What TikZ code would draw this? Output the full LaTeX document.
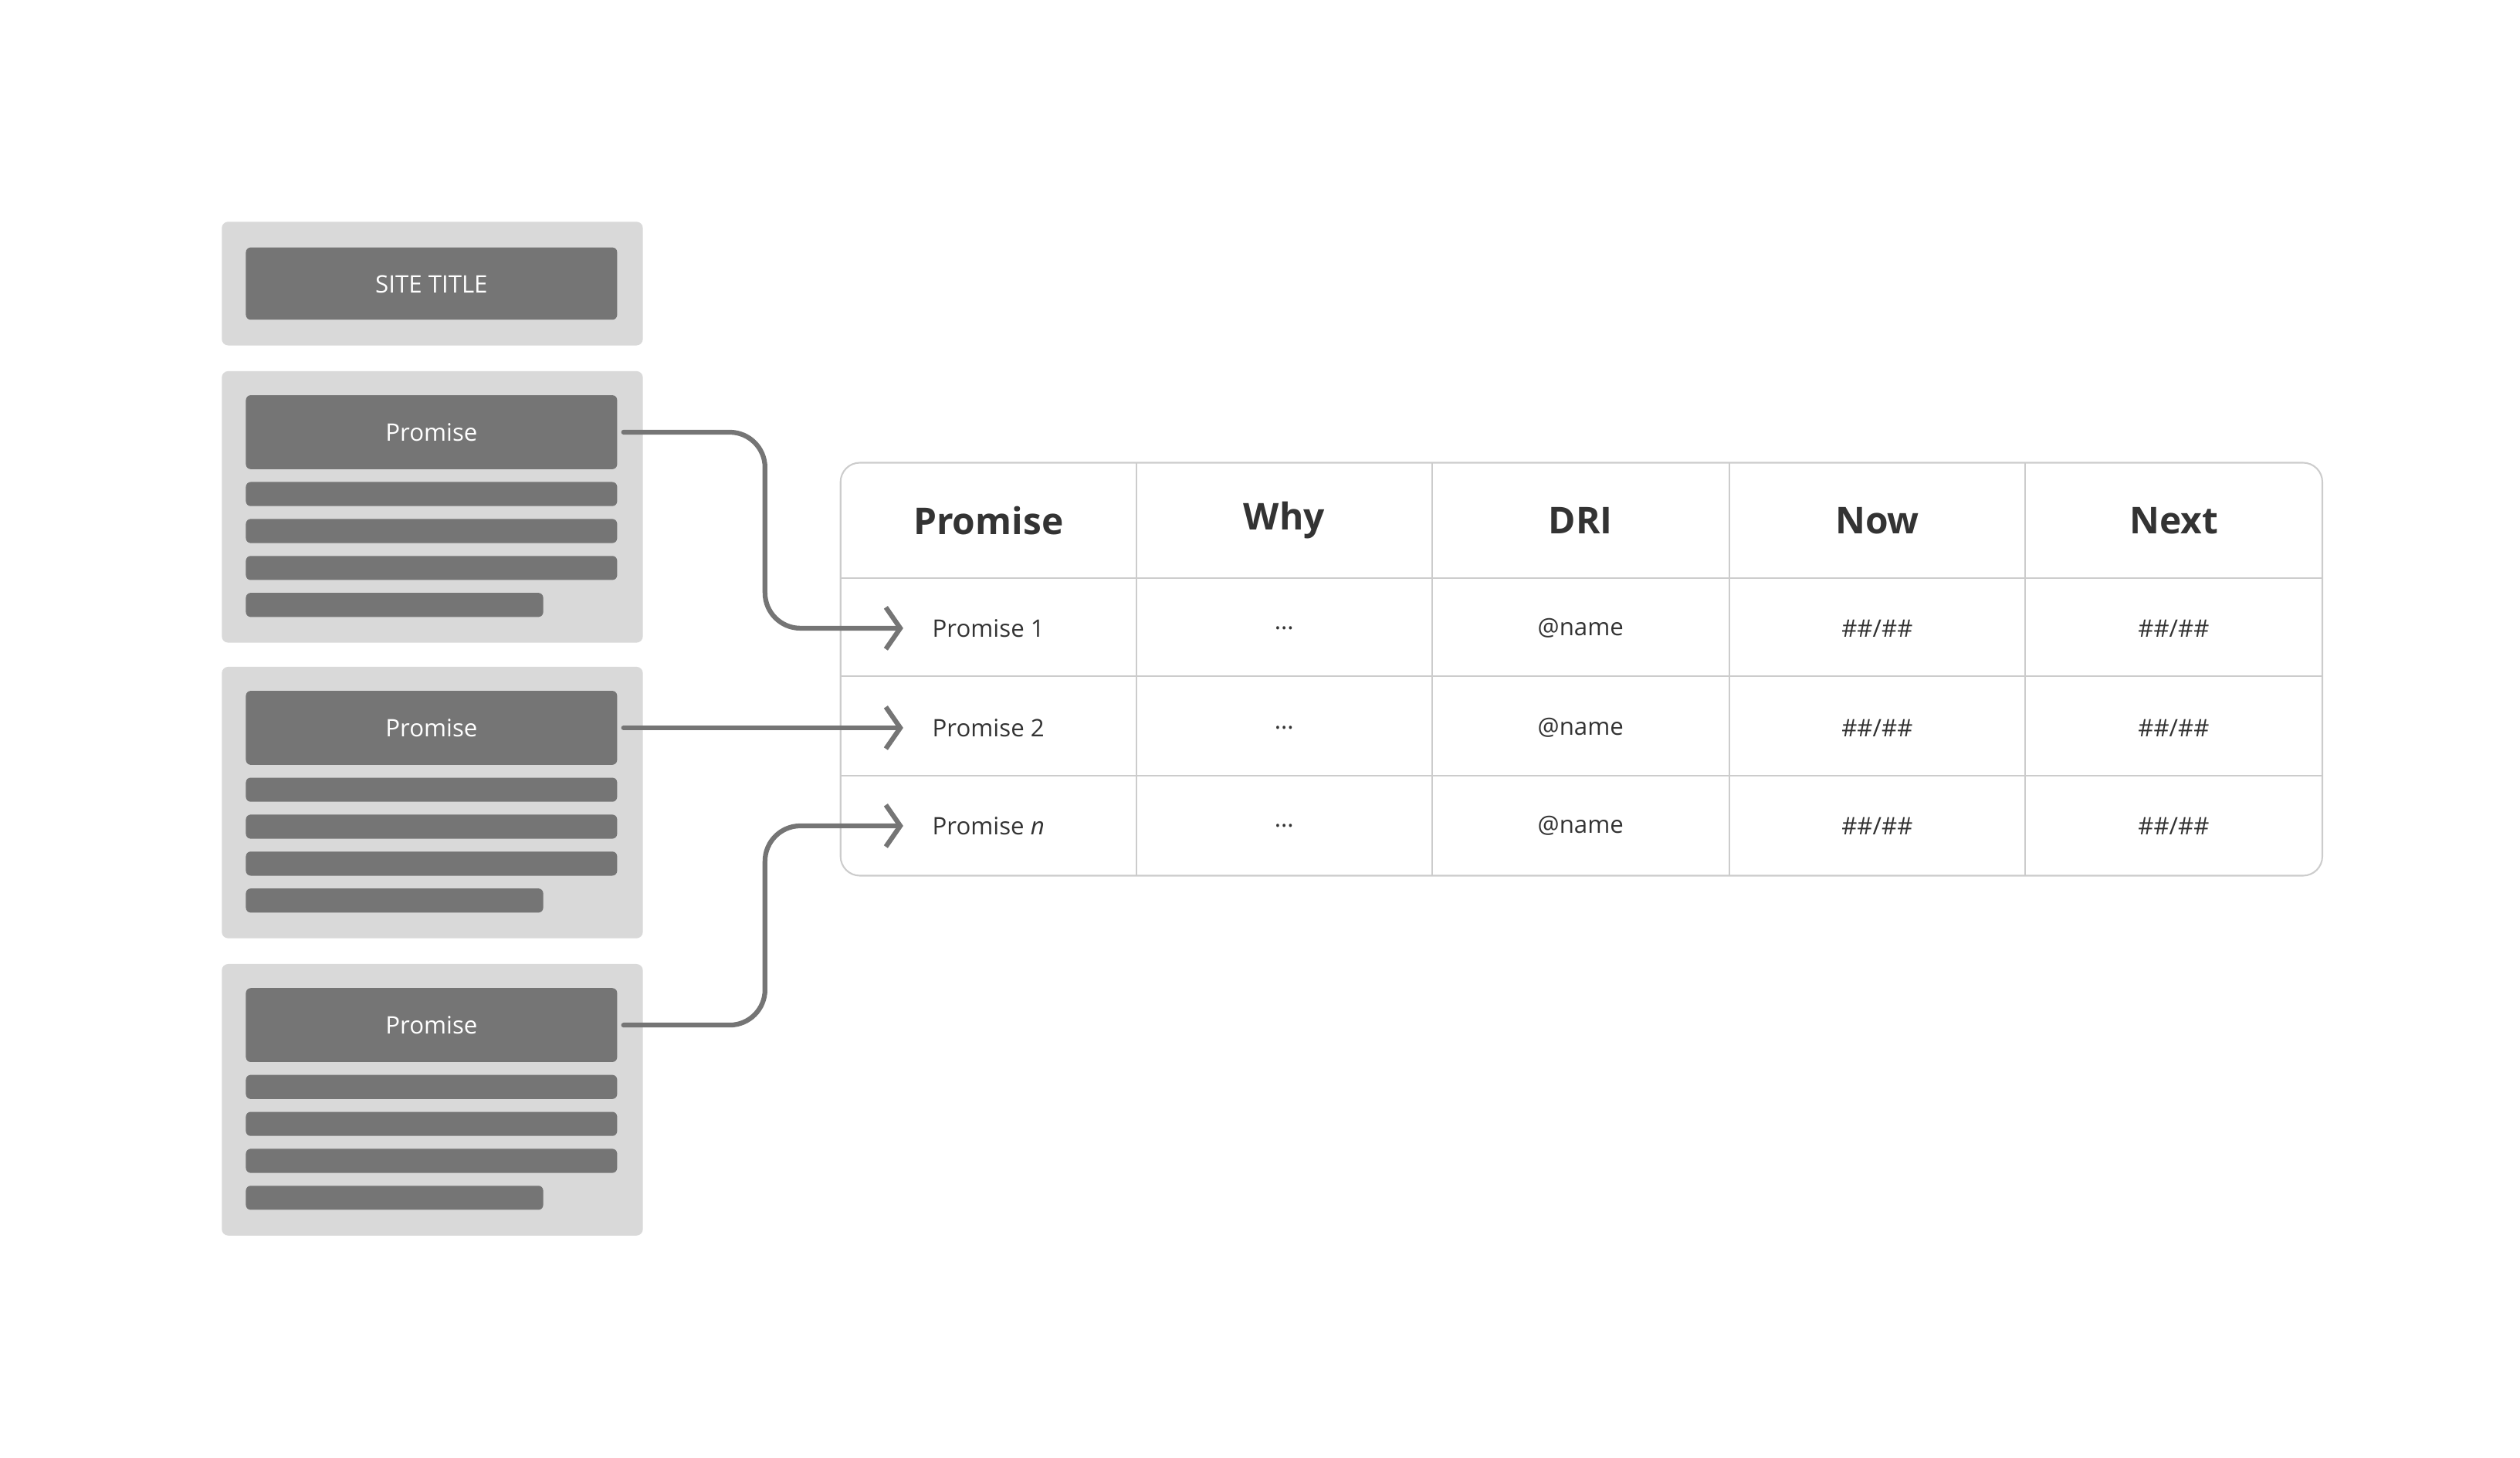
\documentclass[tikz,border=0pt]{standalone}
\usepackage{fontspec}
\setmainfont{Open Sans}
\usetikzlibrary{arrows.meta}
\definecolor{lg}{HTML}{D9D9D9}
\definecolor{dg}{HTML}{757575}
\definecolor{tl}{HTML}{CCCCCC}
\definecolor{tx}{HTML}{333333}
\begin{document}
\begin{tikzpicture}[x=1pt,y=-1pt,
  card/.style={fill=lg,rounded corners=4pt},
  bar/.style={fill=dg,rounded corners=3pt},
  bartext/.style={text=white,font=\fontsize{15}{18}\selectfont},
  head/.style={text=tx,font=\fontsize{23}{28}\selectfont\bfseries},
  cell/.style={text=tx,font=\fontsize{15}{18}\selectfont},
  conn/.style={draw=dg,line width=3pt,rounded corners=22pt,line cap=round,-{Straight Barb[length=9pt,width=26pt,line width=3pt]}}]
\useasboundingbox (0,0) rectangle (1568,907);
% site title
\fill[card] (138,138) rectangle (400,215);
\fill[bar] (153,154) rectangle (384,199);
\node[bartext] (st) at (268.5,177) {SITE TITLE};
% promise cards
\foreach \i/\t in {1/231,2/415,3/600}{
  \fill[card] (138,\t) rectangle (400,\t+169);
  \fill[bar] (153,\t+15) rectangle (384,\t+61);
  \node[bartext] (h\i) at (268.5,\t+38) {Promise};
  \coordinate (o\i) at (388,\t+38);
  \foreach \k in {0,1,2}{\fill[bar] (153,\t+69+23*\k) rectangle (384,\t+84+23*\k);}
  \fill[bar] (153,\t+138) rectangle (338,\t+153);
}
% table
\draw[tl,line width=1pt] (707,288) -- (707,545) (891,288) -- (891,545) (1076,288) -- (1076,545) (1260,288) -- (1260,545);
\draw[tl,line width=1pt] (523,360) -- (1445,360) (523,421) -- (1445,421) (523,483) -- (1445,483);
\draw[tl,line width=1pt,rounded corners=12pt] (523,288) rectangle (1445,545);
\node[head] (hp) at (615,324) {Promise};
\node[head] (hw) at (799,324) {Why};
\node[head] (hd) at (983.5,324) {DRI};
\node[head] (hn) at (1168,324) {Now};
\node[head] (hx) at (1352.5,324) {Next};
\foreach \r/\y/\n in {1/391/1,2/453/2,3/514/{\textit{n}}}{
  \node[cell] (p\r) at (615,\y) {Promise \n};
  \node[cell] (w\r) at (799,\y) {...};
  \node[cell] (d\r) at (983.5,\y) {@name};
  \node[cell] (nw\r) at (1168,\y) {\#\#/\#\#};
  \node[cell] (nx\r) at (1352.5,\y) {\#\#/\#\#};
  \coordinate (t\r) at (562,\y);
}
\draw[conn] (o1) -- (476,269) -- (476,391) -- (t1);
\draw[conn] (o2) -- (t2);
\draw[conn] (o3) -- (476,638) -- (476,514) -- (t3);
\end{tikzpicture}
\end{document}
